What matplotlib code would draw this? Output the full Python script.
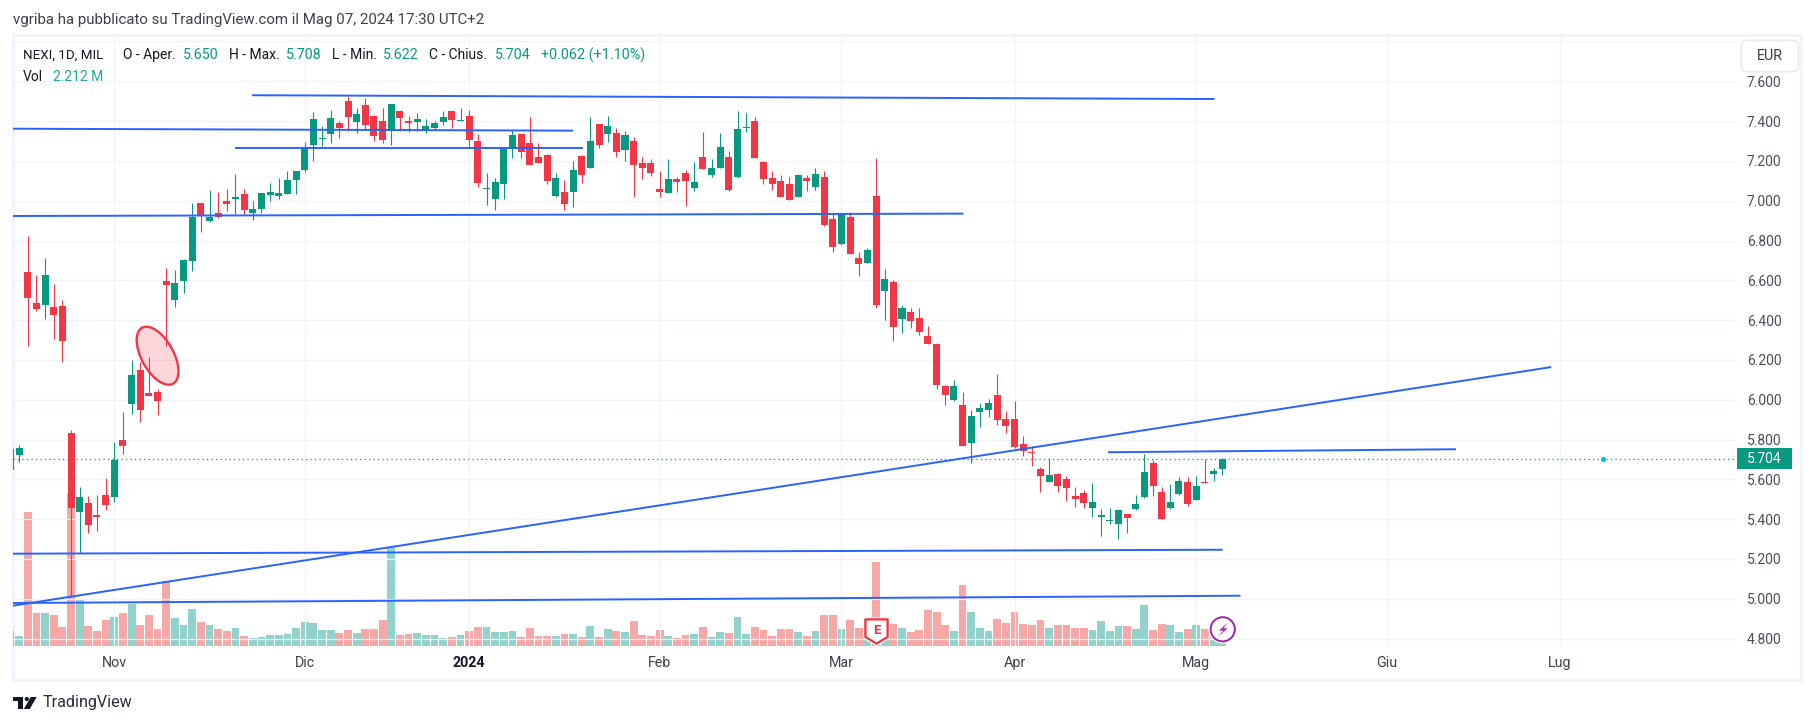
import matplotlib
matplotlib.use("Agg")
import matplotlib.pyplot as plt
import numpy as np
from matplotlib import patheffects
from matplotlib.patches import Circle, Ellipse, FancyBboxPatch, Polygon, Rectangle
from matplotlib.transforms import IdentityTransform, ScaledTranslation

# daily candles, first one is cut by the left edge of the pane
opens = [5.648, 5.723, 6.641, 6.486, 6.476, 6.466, 6.471, 5.832, 5.437, 5.482,
         5.422, 5.522, 5.512, 5.798, 5.979, 6.150, 6.035, 6.040, 6.596, 6.501,
         6.596, 6.697, 6.988, 6.898, 6.938, 7.000, 7.008, 7.033, 6.938, 6.958,
         7.028, 7.023, 7.033, 7.104, 7.154, 7.280, 7.310, 7.335, 7.390, 7.501,
         7.395, 7.481, 7.425, 7.400, 7.360, 7.450, 7.400, 7.395, 7.355, 7.365,
         7.395, 7.450, 7.400, 7.425, 7.300, 7.059, 7.008, 7.084, 7.265, 7.335,
         7.290, 7.219, 7.229, 7.023, 7.043, 7.043, 7.224, 7.164, 7.385, 7.335,
         7.340, 7.254, 7.300, 7.189, 7.189, 7.059, 7.038, 7.109, 7.139, 7.064,
         7.219, 7.129, 7.164, 7.219, 7.119, 7.365, 7.400, 7.194, 7.114, 7.099,
         7.084, 7.018, 7.114, 7.069, 7.119, 6.908, 6.782, 6.918, 6.712, 6.687,
         7.023, 6.546, 6.591, 6.405, 6.440, 6.410, 6.320, 6.280, 6.069, 5.998,
         5.973, 5.782, 5.938, 5.948, 6.023, 5.903, 5.903, 5.777, 5.739, 5.652,
         5.586, 5.626, 5.601, 5.516, 5.531, 5.456, 5.410, 5.390, 5.375, 5.425,
         5.450, 5.511, 5.682, 5.536, 5.456, 5.526, 5.586, 5.496, 5.586, 5.626, 5.650]
highs = [5.760, 5.773, 6.822, 6.626, 6.712, 6.581, 6.501, 5.849, 5.562, 5.517,
         5.522, 5.608, 5.788, 5.939, 6.199, 6.189, 6.214, 6.055, 6.662, 6.651,
         6.705, 6.988, 6.990, 7.053, 7.043, 7.058, 7.134, 7.058, 6.998, 7.040,
         7.089, 7.114, 7.149, 7.149, 7.295, 7.445, 7.375, 7.455, 7.400, 7.526,
         7.466, 7.516, 7.430, 7.466, 7.486, 7.450, 7.425, 7.440, 7.410, 7.400,
         7.450, 7.450, 7.466, 7.455, 7.335, 7.139, 7.114, 7.265, 7.355, 7.340,
         7.420, 7.290, 7.234, 7.139, 7.104, 7.199, 7.229, 7.420, 7.385, 7.425,
         7.365, 7.350, 7.320, 7.219, 7.209, 7.149, 7.209, 7.119, 7.154, 7.194,
         7.345, 7.209, 7.340, 7.249, 7.450, 7.440, 7.420, 7.199, 7.149, 7.129,
         7.119, 7.134, 7.129, 7.164, 7.149, 6.938, 6.938, 6.943, 6.742, 6.762,
         7.214, 6.656, 6.601, 6.476, 6.461, 6.461, 6.370, 6.285, 6.072, 6.099,
         6.038, 5.948, 5.983, 6.003, 6.129, 5.943, 5.993, 5.817, 5.767, 5.662,
         5.705, 5.631, 5.616, 5.561, 5.546, 5.581, 5.450, 5.456, 5.450, 5.425,
         5.521, 5.727, 5.697, 5.561, 5.576, 5.611, 5.611, 5.616, 5.702, 5.657, 5.708]
lows = [5.640, 5.688, 6.270, 6.445, 6.405, 6.305, 6.189, 5.015, 5.229, 5.331,
        5.341, 5.447, 5.487, 5.728, 5.929, 5.889, 6.018, 5.924, 6.270, 6.466,
        6.536, 6.646, 6.842, 6.895, 6.915, 6.948, 6.933, 6.933, 6.903, 6.938,
        6.998, 7.008, 7.033, 7.033, 7.144, 7.199, 7.275, 7.290, 7.315, 7.350,
        7.340, 7.355, 7.300, 7.290, 7.280, 7.350, 7.345, 7.350, 7.340, 7.355,
        7.380, 7.365, 7.398, 7.270, 7.069, 6.978, 6.953, 7.008, 7.214, 7.214,
        7.179, 7.189, 7.084, 7.018, 6.953, 6.968, 7.089, 7.164, 7.265, 7.295,
        7.219, 7.199, 7.018, 7.109, 7.124, 7.018, 7.038, 7.043, 6.973, 7.048,
        7.159, 7.119, 7.164, 7.048, 7.114, 7.345, 7.214, 7.084, 7.053, 7.018,
        7.003, 7.018, 7.048, 7.053, 6.873, 6.742, 6.777, 6.732, 6.621, 6.687,
        6.461, 6.400, 6.295, 6.335, 6.360, 6.325, 6.280, 6.053, 5.973, 5.993,
        5.767, 5.682, 5.863, 5.913, 5.873, 5.832, 5.757, 5.717, 5.667, 5.536,
        5.586, 5.536, 5.491, 5.461, 5.456, 5.410, 5.315, 5.375, 5.300, 5.330,
        5.445, 5.506, 5.516, 5.400, 5.450, 5.521, 5.466, 5.496, 5.581, 5.591, 5.622]
closes = [5.752, 5.758, 6.511, 6.455, 6.626, 6.425, 6.295, 5.457, 5.512, 5.371,
          5.412, 5.472, 5.698, 5.768, 6.125, 5.949, 6.020, 5.994, 6.576, 6.586,
          6.702, 6.918, 6.928, 6.918, 6.918, 6.983, 7.018, 6.953, 6.958, 7.038,
          7.043, 7.038, 7.104, 7.149, 7.270, 7.410, 7.315, 7.415, 7.365, 7.420,
          7.435, 7.380, 7.325, 7.305, 7.486, 7.415, 7.390, 7.410, 7.375, 7.390,
          7.420, 7.405, 7.405, 7.305, 7.089, 7.064, 7.094, 7.260, 7.330, 7.244,
          7.179, 7.189, 7.099, 7.114, 6.983, 7.154, 7.129, 7.300, 7.280, 7.375,
          7.244, 7.330, 7.179, 7.164, 7.139, 7.043, 7.109, 7.094, 7.099, 7.094,
          7.159, 7.164, 7.270, 7.053, 7.360, 7.370, 7.214, 7.109, 7.084, 7.018,
          7.003, 7.129, 7.099, 7.134, 6.878, 6.767, 6.933, 6.732, 6.682, 6.752,
          6.476, 6.606, 6.365, 6.461, 6.395, 6.340, 6.280, 6.074, 6.023, 6.069,
          5.767, 5.918, 5.958, 5.983, 5.898, 5.868, 5.762, 5.742, 5.732, 5.616,
          5.621, 5.566, 5.556, 5.501, 5.481, 5.486, 5.420, 5.395, 5.445, 5.405,
          5.476, 5.636, 5.566, 5.400, 5.486, 5.591, 5.476, 5.566, 5.581, 5.644, 5.704]

# volume in millions, 1 = close above previous close
volumes = [1.80, 1.20, 16.08, 3.96, 3.96, 3.72, 2.28, 18.32, 5.64, 2.40,
           1.80, 3.12, 3.48, 3.96, 5.08, 2.52, 3.72, 2.04, 7.80, 3.36,
           2.52, 4.44, 2.88, 2.52, 2.04, 1.80, 2.16, 1.20, 0.96, 1.08,
           1.32, 1.32, 1.44, 2.16, 2.88, 2.76, 1.92, 1.92, 1.56, 1.92,
           1.56, 2.04, 2.04, 3.12, 11.84, 1.32, 1.44, 1.56, 1.32, 1.32,
           0.96, 1.08, 1.32, 1.80, 2.28, 2.28, 1.68, 1.68, 1.80, 1.08,
           2.16, 1.20, 1.20, 1.20, 1.44, 1.44, 1.08, 2.40, 1.08, 2.04,
           1.80, 1.68, 3.00, 1.32, 1.20, 1.92, 1.20, 0.96, 1.32, 1.44,
           2.28, 1.08, 1.68, 1.56, 3.48, 1.44, 2.28, 1.92, 1.20, 2.04,
           2.04, 1.68, 1.20, 1.80, 3.72, 3.72, 2.04, 3.12, 2.16, 1.12,
           10.08, 1.20, 2.64, 2.16, 1.68, 1.92, 4.32, 4.08, 2.52, 1.80,
           7.32, 4.08, 2.16, 1.80, 3.24, 2.76, 4.08, 2.64, 2.52, 3.12,
           2.16, 2.52, 2.52, 2.16, 2.16, 1.92, 3.00, 1.80, 2.40, 2.40,
           2.04, 4.92, 1.92, 2.64, 2.52, 1.68, 2.04, 2.52, 2.04, 1.32, 2.212]
vol_up = [1, 1, 0, 0, 1, 0, 0, 0, 1, 0,
          0, 0, 1, 0, 1, 0, 0, 0, 0, 1,
          1, 1, 0, 1, 0, 0, 1, 0, 1, 1,
          1, 1, 1, 1, 1, 1, 1, 1, 0, 0,
          1, 0, 0, 0, 1, 0, 0, 1, 1, 1,
          1, 0, 1, 0, 0, 1, 1, 1, 1, 0,
          0, 0, 0, 1, 0, 1, 0, 1, 0, 1,
          0, 1, 0, 0, 0, 0, 1, 0, 0, 1,
          0, 1, 1, 0, 1, 1, 0, 0, 0, 0,
          0, 1, 0, 1, 0, 0, 1, 0, 0, 1,
          0, 1, 0, 1, 0, 0, 0, 0, 0, 1,
          0, 1, 1, 1, 0, 0, 0, 0, 0, 0,
          1, 0, 0, 0, 0, 1, 1, 1, 1, 0,
          1, 1, 0, 0, 1, 1, 0, 1, 0, 1, 1]

# drawn trend lines: bar numbers and prices at both ends
trend_x = [(26.9, 138.1), (-2, 64.0), (24.9, 65.1), (-2, 109.1),
           (-2, 139.05), (-2, 141.1), (-1.0, 177), (125.8, 166)]
trend_y = [(7.530, 7.511), (7.362, 7.352), (7.266, 7.266), (6.923, 6.935),
           (5.226, 5.246), (4.978, 5.015), (4.963, 6.164), (5.736, 5.751)]

month_pos = [11, 33, 52, 74, 95, 115, 136, 158, 178]
month_labels = ["Nov", "Dic", "2024", "Feb", "Mar", "Apr", "Mag", "Giu", "Lug"]
price_ticks = [4.8, 5.0, 5.2, 5.4, 5.6, 5.8, 6.0, 6.2, 6.4, 6.6, 6.8, 7.0, 7.2, 7.4, 7.6]

W, H = 1815, 725
UP, DOWN = "#089981", "#f23645"
BLUE = "#2962ff"
GRID = "#f0f3fa"
TEXT = "#131722"

plt.rcParams["font.family"] = ["Roboto", "DejaVu Sans"]


def fx(x):
    return x / W


def fy(y):
    return 1 - y / H


bars = np.arange(-1, 140)
opens = np.array(opens)
closes = np.array(closes)

fig = plt.figure(figsize=(W / 100, H / 100), dpi=100, facecolor="white")
left, right, top, bottom = 13.3, 1737, 36, 646
ax = fig.add_axes([fx(left), fy(bottom), (right - left) / W, (bottom - top) / H])
ax.set_zorder(1)
ax.set_xlim(11 + (left - 114.3) / 8.656, 11 + (right - 114.3) / 8.656)
ax.set_ylim(7.6 - (bottom - 81.3) / 199, 7.6 - (top - 81.3) / 199)
for s in ax.spines.values():
    s.set_visible(False)

# volume shares the pane, on its own scale
vol_ax = ax.twinx()
vol_ax.set_zorder(0)
ax.patch.set_visible(False)
vol_ax.set_ylim(0, 73.2)
vol_ax.axis("off")
vol_colors = ["#26a69a" if u else "#ef5350" for u in vol_up]
vol_ax.bar(bars, volumes, width=0.9, color=vol_colors, alpha=0.5, linewidth=0)

ax.set_axisbelow(True)
ax.yaxis.tick_right()
ax.set_yticks(price_ticks)
ax.set_yticks([7.8], minor=True)
ax.grid(True, color=GRID, linewidth=0.9)
ax.grid(True, which="minor", axis="y", color=GRID, linewidth=0.9)
ax.tick_params(axis="y", which="both", length=0, pad=7.2, labelsize=10, labelcolor="#4a4e58")
ax.set_yticklabels(["%.3f" % p for p in price_ticks])
ax.set_xticks(month_pos)
ax.set_xticklabels(month_labels)
ax.tick_params(axis="x", length=0, pad=7.5, labelsize=10.3, labelcolor="#3c404a")
for lab in ax.get_xticklabels():
    if lab.get_text() == "2024":
        lab.set_fontweight("bold")
        lab.set_color(TEXT)

# candles
colors = [UP if c >= o else DOWN for o, c in zip(opens, closes)]
ax.vlines(bars, lows, highs, colors=colors, linewidth=0.8, zorder=3)
ax.bar(bars, np.abs(closes - opens), bottom=np.minimum(opens, closes), width=0.81,
       color=colors, linewidth=0, zorder=3)

# last price line and dot
last_close = closes[-1]
ax.axhline(last_close, color=UP, linewidth=0.9, linestyle=(0, (1, 2.6)), zorder=2)
ax.plot([183], [last_close], "o", color="#00bcd4", markersize=2.6, zorder=3)

for xs, ys in zip(trend_x, trend_y):
    ax.plot(xs, ys, color=BLUE, linewidth=1.4, solid_capstyle="butt", zorder=4)

# red ellipse over the November candles
ell = Ellipse((0, 0), 0.64, 0.32, angle=-61, facecolor=(0.949, 0.212, 0.271, 0.2),
              edgecolor=DOWN, linewidth=1.7,
              transform=fig.dpi_scale_trans + ScaledTranslation(16.0, 6.221, ax.transData),
              zorder=5)
ax.add_patch(ell)

# last price tag on the scale
ax.add_patch(Rectangle((1, last_close - 0.052), 54.7 / (right - left), 0.104,
                       transform=ax.get_yaxis_transform(), facecolor=UP, edgecolor="none",
                       clip_on=False, zorder=6))
ax.text(1.0058, last_close - 0.002, "%.3f" % last_close, transform=ax.get_yaxis_transform(),
        color="white", fontsize=10, va="center", ha="left", zorder=7)

# frame round the whole widget
fig.add_artist(Rectangle((fx(13), fy(680)), (1801 - 13) / W, (680 - 35) / H, transform=fig.transFigure,
                         facecolor="none", edgecolor=GRID, linewidth=1.8, zorder=0))

# EUR button
eur = FancyBboxPatch((fx(1745), fy(68)), 50 / W, 24 / H, boxstyle="round,pad=0.002,rounding_size=0.003",
                     transform=fig.transFigure, facecolor="white", edgecolor="#e8eaf2",
                     linewidth=1.2, zorder=5, mutation_aspect=2.5)
fig.add_artist(eur)
fig.text(fx(1770), fy(55.5), "EUR", fontsize=10.3, color="#363a45", ha="center", va="center", zorder=6)

# earnings flag
shield = [(865.5, 619.5), (887.5, 619.5), (887.5, 637), (876.5, 643.5), (865.5, 637)]
flag = Polygon([(fx(x), fy(y)) for x, y in shield], closed=True, transform=fig.transFigure,
               facecolor="white", edgecolor=DOWN, linewidth=1.5, joinstyle="round", zorder=5)
flag.set_path_effects([patheffects.withStroke(linewidth=3.5, foreground="white"), patheffects.Normal()])
fig.add_artist(flag)
fig.text(fx(876.5), fy(630.5), "E", fontsize=9.5, fontweight="bold", color=DOWN, ha="center", va="center", zorder=6)

# purple idea marker
cx, cy = 1222.7, 629.3
disc = Circle((cx, H - cy), 12, transform=IdentityTransform(),
              facecolor="white", edgecolor="#9c27b0", linewidth=1.3, zorder=5)
disc.set_path_effects([patheffects.withStroke(linewidth=3.2, foreground="white"), patheffects.Normal()])
fig.add_artist(disc)
bolt = [(5, -6.7), (-3.7, 1.3), (0.7, 1.3), (-5, 7.7), (5, -1), (0.7, -1)]
fig.add_artist(Polygon([(fx(cx + a), fy(cy + b)) for a, b in bolt], closed=True, transform=fig.transFigure,
                       facecolor="#9c27b0", edgecolor="none", zorder=6))

# header texts
fig.text(fx(13), fy(20), "vgriba ha pubblicato su TradingView.com il Mag 07, 2024 17:30 UTC+2",
         fontsize=10.85, color="#3c404a", va="center")
legend_row = [(23, "NEXI, 1D, MIL", TEXT, 9.6), (123, "O - Aper.", TEXT, 10), (183, "5.650", UP, 10.3),
              (229, "H - Max.", TEXT, 10), (286, "5.708", UP, 10.3), (332, "L - Min.", TEXT, 10),
              (383, "5.622", UP, 10.3), (429.5, "C - Chius.", TEXT, 10), (495, "5.704", UP, 10.3),
              (541.5, "+0.062 (+1.10%)", UP, 10.4)]
for x, s, c, size in legend_row:
    fig.text(fx(x), fy(55), s, fontsize=size, color=c, va="center", zorder=6)
fig.text(fx(23), fy(76.7), "Vol", fontsize=10, color=TEXT, va="center", zorder=6)
fig.text(fx(52.7), fy(76.7), "2.212 M", fontsize=10, color="#26a69a", va="center", zorder=6)

# TradingView logo
lx, ly = 13.3, 697
t_shape = [(0, 0), (9.5, 0), (9.5, 12), (4.5, 12), (4.5, 4), (0, 4)]
slash = [(17.5, 0), (23.4, 0), (16.5, 12), (10.5, 12)]
for shape in (t_shape, slash):
    fig.add_artist(Polygon([(fx(lx + a), fy(ly + b)) for a, b in shape], closed=True,
                           transform=fig.transFigure, facecolor=TEXT, edgecolor="none"))
fig.add_artist(Circle((lx + 13.5, H - ly - 2), 2.1, transform=IdentityTransform(),
                      facecolor=TEXT, edgecolor="none"))
fig.text(fx(42.7), fy(703), "TradingView", fontsize=11.6, color="#2a2e39", va="center")

fig.savefig("out.png", dpi=100)
